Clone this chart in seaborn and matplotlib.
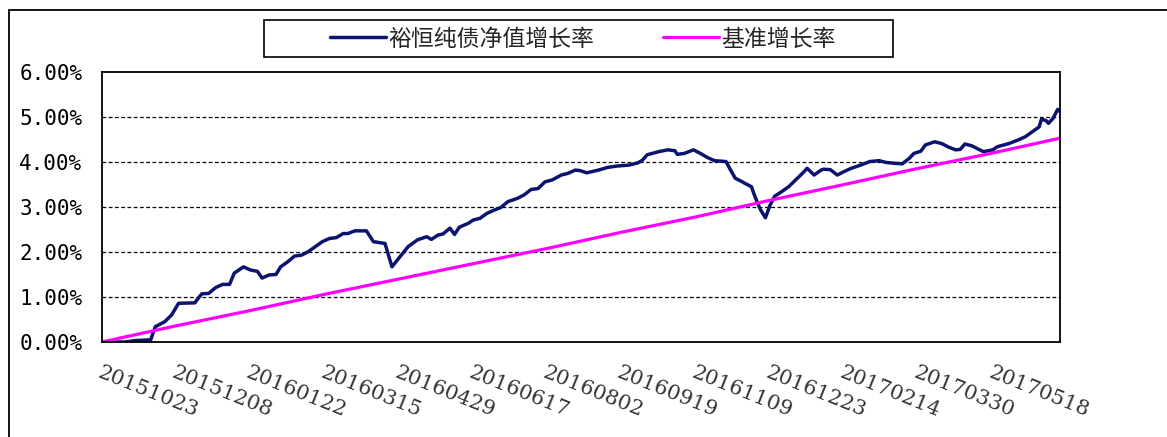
import numpy as np
import pandas as pd
import matplotlib
matplotlib.use("Agg")
import matplotlib.pyplot as plt
import seaborn as sns
from matplotlib.patches import Rectangle
from matplotlib.ticker import FixedLocator, FuncFormatter

# --- data (x = trading-day index) ---
date_labels = ["20151023", "20151208", "20160122", "20160315", "20160429",
               "20160617", "20160802", "20160919", "20161109", "20161223",
               "20170214", "20170330", "20170518"]
label_idx = [0, 32, 64, 96, 128, 160, 192, 224, 256, 288, 320, 352, 384]

fund_idx = [0, 10, 14, 21, 23, 27, 30, 33, 40, 43, 46, 49, 52, 55, 57, 61, 64, 67,
            69, 72, 75, 77, 80, 83, 86, 89, 92, 95, 98, 101, 104, 106, 109, 114,
            117, 122, 125, 129, 132, 136, 140, 142, 145, 147, 150, 152, 154, 158,
            160, 163, 166, 169, 172, 175, 179, 182, 185, 188, 191, 194, 198, 201,
            204, 206, 209, 214, 218, 222, 227, 231, 233, 235, 240, 244, 247, 248,
            251, 255, 258, 261, 264, 269, 271, 273, 276, 277, 280, 281, 283, 284,
            286, 288, 290, 293, 296, 299, 302, 304, 307, 310, 311, 314, 317, 320,
            323, 327, 331, 335, 338, 342, 345, 348, 350, 353, 355, 359, 362, 365,
            368, 370, 372, 375, 378, 380, 384, 386, 391, 395, 398, 401, 404, 405,
            407, 408, 410, 412, 413]
fund_val = [0.00, 0.00, 0.03, 0.05, 0.34, 0.45, 0.60, 0.86, 0.87, 1.07, 1.08, 1.21,
            1.28, 1.28, 1.53, 1.67, 1.60, 1.57, 1.42, 1.49, 1.50, 1.67, 1.78, 1.91,
            1.93, 2.01, 2.12, 2.23, 2.30, 2.32, 2.41, 2.41, 2.47, 2.47, 2.23, 2.19,
            1.67, 1.93, 2.12, 2.27, 2.34, 2.28, 2.38, 2.40, 2.53, 2.39, 2.55, 2.64,
            2.71, 2.75, 2.86, 2.93, 2.99, 3.12, 3.19, 3.27, 3.39, 3.41, 3.56, 3.60,
            3.71, 3.75, 3.82, 3.81, 3.76, 3.82, 3.88, 3.91, 3.93, 3.98, 4.04, 4.16,
            4.23, 4.27, 4.25, 4.17, 4.19, 4.27, 4.19, 4.10, 4.03, 4.01, 3.82, 3.64,
            3.56, 3.53, 3.45, 3.30, 3.04, 2.93, 2.76, 3.04, 3.24, 3.34, 3.45, 3.60,
            3.75, 3.86, 3.71, 3.82, 3.84, 3.83, 3.71, 3.79, 3.86, 3.93, 4.01, 4.03,
            3.99, 3.97, 3.96, 4.08, 4.19, 4.24, 4.38, 4.45, 4.41, 4.33, 4.27, 4.28,
            4.40, 4.36, 4.28, 4.23, 4.27, 4.34, 4.41, 4.49, 4.56, 4.67, 4.78, 4.95,
            4.92, 4.86, 4.97, 5.17, 5.12]

bench_idx = [0, 32, 64, 96, 128, 160, 192, 224, 256, 288, 320, 352, 384, 413]
bench_val = [0.00, 0.36, 0.70, 1.06, 1.40, 1.74, 2.08, 2.44, 2.78, 3.15, 3.50,
             3.86, 4.20, 4.53]

fund_name = "裕恒纯债净值增长率"
bench_name = "基准增长率"

# --- plot ---
sns.set_style("white")
plt.rcParams["font.family"] = ["Noto Sans CJK SC", "DejaVu Sans"]

W, H = 1167, 437
fig = plt.figure(figsize=(W / 100, H / 100), dpi=100)
ax = fig.add_axes([102 / W, 95 / H, 958 / W, 270 / H])

sns.lineplot(x=fund_idx, y=fund_val, ax=ax, color="#0c1470", linewidth=2.5,
             label=fund_name)
sns.lineplot(x=bench_idx, y=bench_val, ax=ax, color="#ff00ff", linewidth=2.3,
             label=bench_name)

ax.set_xlim(0, 413)
ax.set_ylim(0, 6)
ax.set_yticks([0, 1, 2, 3, 4, 5, 6])
ax.yaxis.set_major_formatter(FuncFormatter(lambda v, p: f"{v:.2f}%"))
for t in ax.get_yticklabels():
    t.set_family("DejaVu Sans Mono")
    t.set_fontsize(15)
ax.tick_params(axis="y", length=0, pad=14, colors="black")

for yv in [1, 2, 3, 4, 5]:
    ax.axhline(yv, color="black", linewidth=0.9, linestyle=(0, (3, 2)), zorder=0)

ax.set_xticks(label_idx)
ax.set_xticklabels(date_labels, rotation=-22, ha="left", va="top",
                   rotation_mode="anchor", family="DejaVu Serif", fontsize=15,
                   color="#333333")
ax.tick_params(axis="x", which="major", length=0, pad=15)
ax.xaxis.set_minor_locator(FixedLocator(list(range(0, 414, 7))))
ax.tick_params(axis="x", which="minor", direction="in", length=5, width=1,
               color="black")
ax.set_xlabel("")
ax.set_ylabel("")

for s in ax.spines.values():
    s.set_color("black")
    s.set_linewidth(1.3)

# legend without its own frame; box drawn separately to match the wide frame
leg = ax.legend(loc="center", bbox_to_anchor=(583 / W, 1 - 39 / H),
                bbox_transform=fig.transFigure, ncol=2, frameon=False,
                fontsize=16.5, handlelength=2.45, handletextpad=0.1,
                columnspacing=3.0)
fig.patches.append(Rectangle((264 / W, 1 - 57 / H), 629 / W, 37 / H,
                             transform=fig.transFigure, fill=False,
                             edgecolor="black", linewidth=1.2))

# outer chart border
fig.patches.append(Rectangle((9 / W, -0.1), 1.2, 0.1 + 427 / H,
                             transform=fig.transFigure, fill=False,
                             edgecolor="black", linewidth=1.3))

fig.savefig("out.png", dpi=100)
